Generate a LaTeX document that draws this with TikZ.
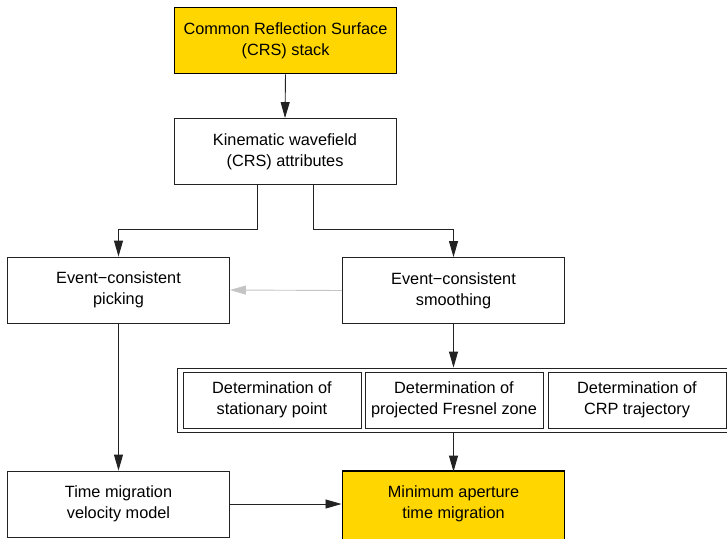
\documentclass[tikz,border=0pt]{standalone}
\usepackage{fontspec}
\setmainfont{Liberation Sans}
\usetikzlibrary{arrows.meta,calc}
\definecolor{boxyellow}{HTML}{FFD600}
\definecolor{linegray}{HTML}{222222}
\definecolor{lightarrow}{HTML}{C4C4C4}
\begin{document}
\begin{tikzpicture}[x=1pt,y=-1pt,
  every node/.style={font=\fontsize{16.3}{21}\selectfont, align=center, inner sep=0pt},
  plainbox/.style={draw=linegray, line width=0.9pt, fill=white, minimum width=222pt, minimum height=66pt},
  yellowbox/.style={draw=black, line width=1.6pt, fill=boxyellow, minimum width=222pt, minimum height=66pt},
  innerbox/.style={draw=linegray, line width=0.9pt, minimum width=178pt, minimum height=56pt},
  conn/.style={draw=linegray, line width=0.9pt, -{Triangle[length=16pt,width=9pt]}},
  greyconn/.style={draw=lightarrow, line width=0.9pt, -{Triangle[length=16pt,width=9pt]}}
]
\useasboundingbox (0,0) rectangle (727,538);
\fill[white] (0,0) rectangle (727,538);

\node[yellowbox] (crs) at (285.5,40.5) {Common Reflection Surface\\(CRS) stack};
\node[plainbox] (kin) at (285,151.5) {Kinematic wavefield\\(CRS) attributes};
\node[plainbox] (pick) at (118.5,290) {Event{\char"2212}consistent\\picking};
\node[plainbox] (smooth) at (453.5,290.5) {Event{\char"2212}consistent\\smoothing};
\node[draw=linegray, line width=0.9pt, minimum width=555pt, minimum height=64pt] (outer) at (454.5,400) {};
\node[innerbox] (d1) at (272,400) {Determination of\\stationary point};
\node[innerbox] (d2) at (454,400) {Determination of\\projected Fresnel zone};
\node[innerbox] (d3) at (637,400) {Determination of\\CRP trajectory};
\node[plainbox] (tmv) at (118.5,504) {Time migration\\velocity model};
\draw[draw=black, line width=1.6pt, fill=boxyellow] (342.5,471) rectangle (564.5,548);
\node[minimum width=222pt, minimum height=66pt] (mat) at (453.5,504) {Minimum aperture\\time migration};

\coordinate (kl) at ($(kin.south)+(-28,0)$);
\coordinate (kr) at ($(kin.south)+(28,0)$);

\draw[conn] (crs.south) -- (kin.north);
\draw[conn] (kl) |- ($(kl)+(0,44)$) -| (pick.north);
\draw[conn] (kr) |- ($(kr)+(0,44)$) -| (smooth.north);
\draw[greyconn] (smooth.west) -- (pick.east);
\draw[conn] (smooth.south) -- (smooth.south |- outer.north);
\draw[conn] (outer.south -| mat.north) -- ([yshift=-0.8pt]mat.north);
\draw[conn] (pick.south) -- (tmv.north);
\draw[conn] (tmv.east) -- ([xshift=-0.8pt]tmv.east -| mat.west);
\end{tikzpicture}
\end{document}
